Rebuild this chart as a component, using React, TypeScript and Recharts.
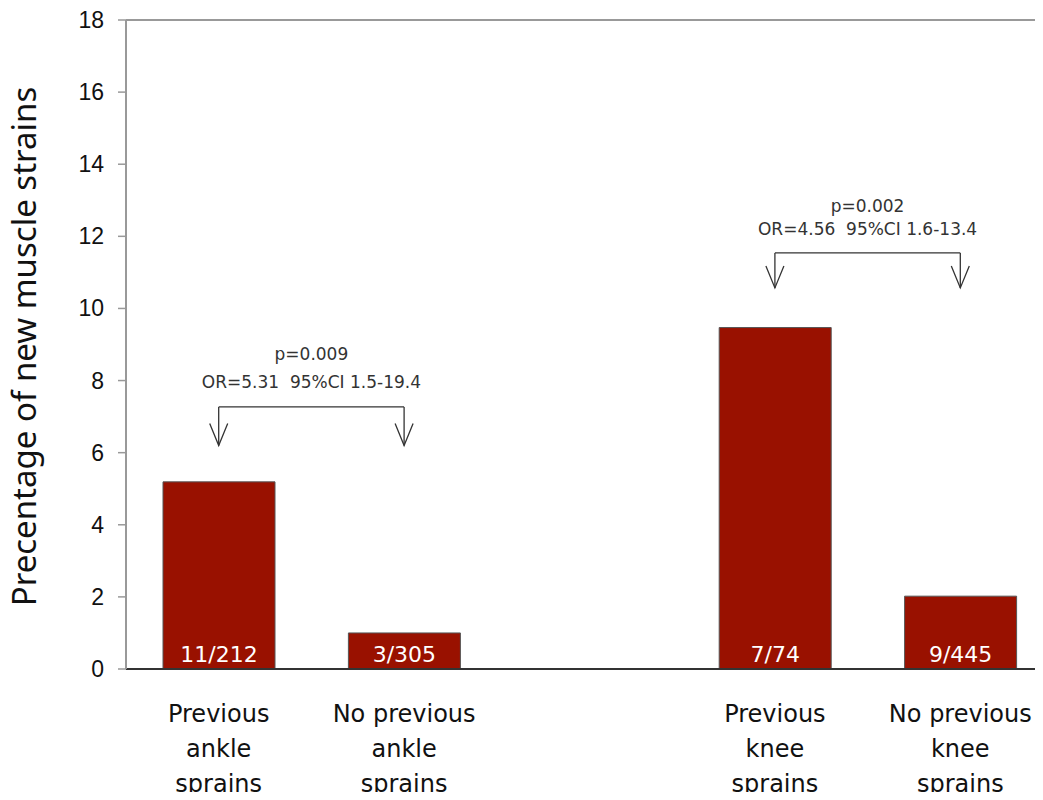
import React from 'react';
import {
  BarChart,
  Bar,
  XAxis,
  YAxis,
  LabelList,
  ReferenceLine,
  ReferenceDot,
  Label,
} from 'recharts';

// categories (the empty one keeps the gap between ankle and knee groups)
const categories = ['ankleYes', 'ankleNo', 'gap', 'kneeYes', 'kneeNo'];
const categoryLabels = [
  ['Previous', 'ankle', 'sprains'],
  ['No previous', 'ankle', 'sprains'],
  [],
  ['Previous', 'knee', 'sprains'],
  ['No previous', 'knee', 'sprains'],
];
const percentages = [5.19, 1.0, null, 9.47, 2.02];
const counts = ['11/212', '3/305', '', '7/74', '9/445'];

const yTicks = [0, 2, 4, 6, 8, 10, 12, 14, 16, 18];

// comparison brackets
const pairFrom = ['ankleYes', 'kneeYes'];
const pairTo = ['ankleNo', 'kneeNo'];
const bracketLevel = [7.27, 11.54];
const arrowTip = [6.2, 10.57];
const pTexts = ['p=0.009', 'p=0.002'];
const orTexts = ['OR=5.31\u00A0 95%CI 1.5-19.4', 'OR=4.56\u00A0 95%CI 1.6-13.4'];

// label offsets above the bracket line (px)
const textOffsets = [
  { or: 19, p: 47 },
  { or: 18, p: 41 },
];

const data = categories.map((key, i) => ({
  key,
  value: percentages[i],
  count: counts[i],
}));

const SANS = '"DejaVu Sans", sans-serif';
const BAR_RED = '#991100';
const ANNOT = '#333';

const CategoryTick = ({ x, y, payload }: any) => {
  const idx = categories.indexOf(payload.value);
  const lines = categoryLabels[idx] || [];
  return (
    <text x={x} y={y} textAnchor="middle" fill="#111" fontFamily={SANS} fontSize={24}>
      {lines.map((l, i) => (
        <tspan key={i} x={x} dy={i === 0 ? 53 : 35}>
          {l}
        </tspan>
      ))}
    </text>
  );
};

const YTick = ({ x, y, payload }: any) => (
  <text
    x={x}
    y={y}
    dy={8}
    textAnchor="end"
    fill="#111"
    fontFamily='"Liberation Sans", Arial, sans-serif'
    fontSize={23}
  >
    {payload.value}
  </text>
);

const YTitle = (props: any) => {
  const vb = props.viewBox || { x: 0, y: 20, width: 126, height: 649 };
  const cx = vb.x + 36;
  const cy = vb.y + vb.height / 2 + 2;
  return (
    <text
      x={cx}
      y={cy}
      transform={`rotate(-90 ${cx} ${cy})`}
      textAnchor="middle"
      fill="#111"
      fontFamily='"Noto Sans", sans-serif'
      fontSize={33}
    >
      Precentage of new muscle strains
    </text>
  );
};

const ArrowHead = ({ cx, cy }: any) => (
  <path
    d={`M${cx - 9},${cy - 22} L${cx},${cy} L${cx + 9},${cy - 22}`}
    fill="none"
    stroke={ANNOT}
    strokeWidth={1.3}
  />
);

export default function App() {
  return (
    <div style={{ margin: -8, width: 1043, height: 800, overflow: 'hidden', background: '#fff' }}>
      <BarChart
        width={1062}
        height={800}
        data={data}
        margin={{ top: 20, right: 9, bottom: 0, left: 0 }}
        barSize={112}
      >
        <XAxis
          dataKey="key"
          height={131}
          interval={0}
          tickLine={false}
          tickSize={0}
          tickMargin={0}
          axisLine={{ stroke: '#333', strokeWidth: 2 }}
          tick={<CategoryTick />}
        />
        <YAxis
          width={126}
          domain={[0, 18]}
          ticks={yTicks}
          interval={0}
          tickSize={8}
          tickMargin={14}
          axisLine={{ stroke: '#999', strokeWidth: 2 }}
          tickLine={{ stroke: '#999', strokeWidth: 1.5 }}
          tick={<YTick />}
          label={<YTitle />}
        />
        <ReferenceLine y={18} stroke="#999" strokeWidth={2} />
        <Bar
          dataKey="value"
          fill={BAR_RED}
          stroke="#555"
          strokeWidth={1}
          isAnimationActive={false}
        >
          <LabelList
            dataKey="count"
            position="insideBottom"
            offset={7}
            fill="#fff"
            fontSize={22}
            fontFamily={SANS}
          />
        </Bar>
        {pairFrom.map((from, i) => (
          <ReferenceLine
            key={`br-${i}`}
            segment={[
              { x: from, y: bracketLevel[i] },
              { x: pairTo[i], y: bracketLevel[i] },
            ]}
            stroke={ANNOT}
            strokeWidth={1.3}
          >
            <Label
              value={orTexts[i]}
              position="top"
              offset={textOffsets[i].or}
              fill={ANNOT}
              fontSize={17}
              fontFamily={SANS}
            />
            <Label
              value={pTexts[i]}
              position="top"
              offset={textOffsets[i].p}
              fill={ANNOT}
              fontSize={17}
              fontFamily={SANS}
            />
          </ReferenceLine>
        ))}
        {[...pairFrom, ...pairTo].map((cat, j) => {
          const i = j % pairFrom.length;
          return (
            <ReferenceLine
              key={`v-${j}`}
              segment={[
                { x: cat, y: bracketLevel[i] },
                { x: cat, y: arrowTip[i] },
              ]}
              stroke={ANNOT}
              strokeWidth={1.3}
            />
          );
        })}
        {[...pairFrom, ...pairTo].map((cat, j) => {
          const i = j % pairFrom.length;
          return (
            <ReferenceDot
              key={`a-${j}`}
              x={cat}
              y={arrowTip[i]}
              r={0}
              shape={<ArrowHead />}
            />
          );
        })}
      </BarChart>
    </div>
  );
}
